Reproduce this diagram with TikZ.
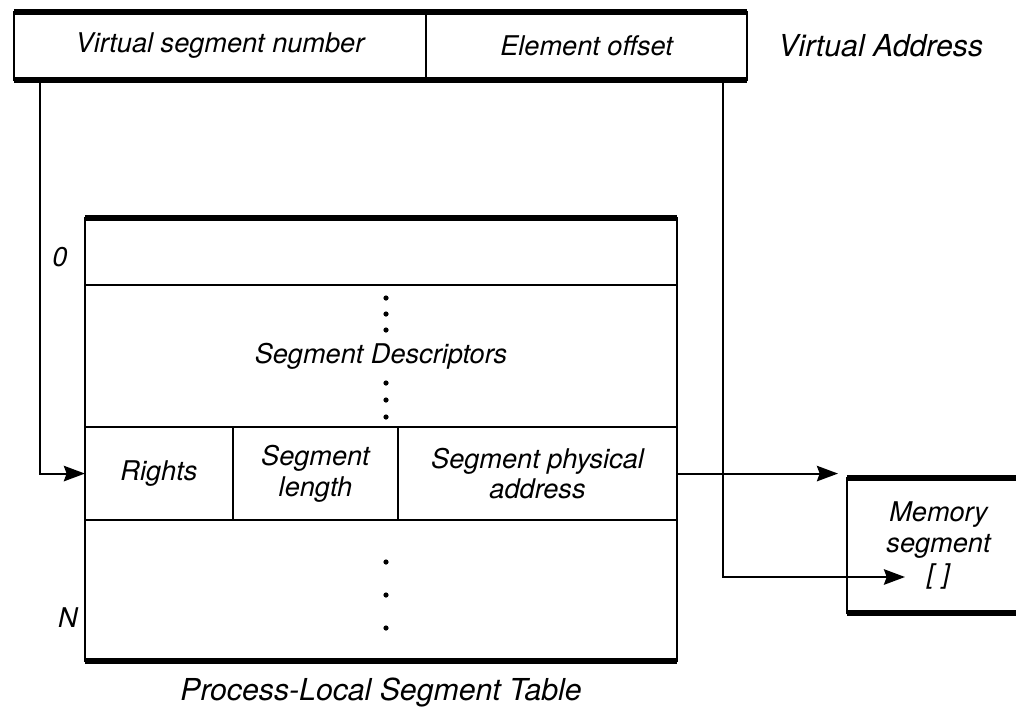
\documentclass[tikz,border=0pt]{standalone}
\usepackage{fontspec}
\setmainfont{TeX Gyre Heros}
\usepackage{tikz}
\usetikzlibrary{arrows.meta,positioning}
\newcommand{\boxfont}{\itshape\fontsize{19.3}{22}\selectfont}
\newcommand{\tagfont}{\itshape\fontsize{21.5}{25}\selectfont}
\tikzstyle{field} = [rectangle, draw, line width=1.5pt, inner sep=0pt, outer sep=0pt, align=center, font=\boxfont]
\tikzstyle{heavy} = [line width=3.8pt]
\tikzstyle{arrow} = [line width=1.5pt, -{Stealth[length=15pt,width=11pt,inset=2pt]}]
\tikzstyle{tag} = [inner sep=0pt, font=\tagfont]
\tikzstyle{index} = [inner sep=0pt, font=\boxfont]

\begin{document}
\begin{tikzpicture}[x=0.025cm, y=-0.025cm]
\useasboundingbox (0,0) rectangle (1016,711);
\clip (0,0) rectangle (1016,711);

% Virtual address
\node (vsn) [field, minimum width=10.3cm, minimum height=1.7cm] at (220,46) {Virtual segment number};
\node (offset) [field, right=0pt of vsn, minimum width=8.025cm, minimum height=1.7cm] {Element offset};
\draw[heavy] (vsn.north west) -- (offset.north east);
\draw[heavy] (vsn.south west) -- (offset.south east);
\node (vaddr) [tag, right=0.775cm of offset] {Virtual Address};

% Segment table
\node (first) [field, minimum width=14.8cm, minimum height=1.675cm] at (381,251.5) {};
\node (desc) [field, below=0pt of first, minimum width=14.8cm, minimum height=3.55cm] {Segment Descriptors};
\node (rights) [field, below right=0pt and 0pt of desc.south west, minimum width=3.7cm, minimum height=2.325cm] {Rights};
\node (seglen) [field, right=0pt of rights, minimum width=4.125cm, minimum height=2.325cm] {Segment\\length};
\node (phys) [field, right=0pt of seglen, minimum width=6.975cm, minimum height=2.325cm] {Segment physical\\address};
\node (rest) [field, below right=0pt and 0pt of rights.south west, minimum width=14.8cm, minimum height=3.525cm] {};
\draw[heavy] (first.north west) -- (first.north east);
\draw[heavy] (rest.south west) -- (rest.south east);
\node (zero) [index] at (60,257) {0};
\node (last) [index] at (68,618) {N};
\node (table) [tag, below=0.42cm of rest] {Process-Local Segment Table};

% Dots
\foreach \y in {298,314,330,383,400,417,562,595,628}
  \fill (386,\y) circle (0.065cm);

% Memory segment
\node (mem) [field, minimum width=4.575cm, minimum height=3.375cm] at (938.5,545.5) {Memory\\segment\\{[ ]}};
\draw[heavy] (mem.north west) -- (mem.north east);
\draw[heavy] (mem.south west) -- (mem.south east);
\coordinate (slot) at (905,577);

% Arrows
\draw[arrow] ([xshift=0.65cm]vsn.south west) |- (rights.west);
\draw[arrow, shorten >=0.225cm] (phys.east) -- (phys.east -| mem.west);
\draw[arrow] ([xshift=-0.6cm]offset.south east) |- (slot);
\end{tikzpicture}
\end{document}
